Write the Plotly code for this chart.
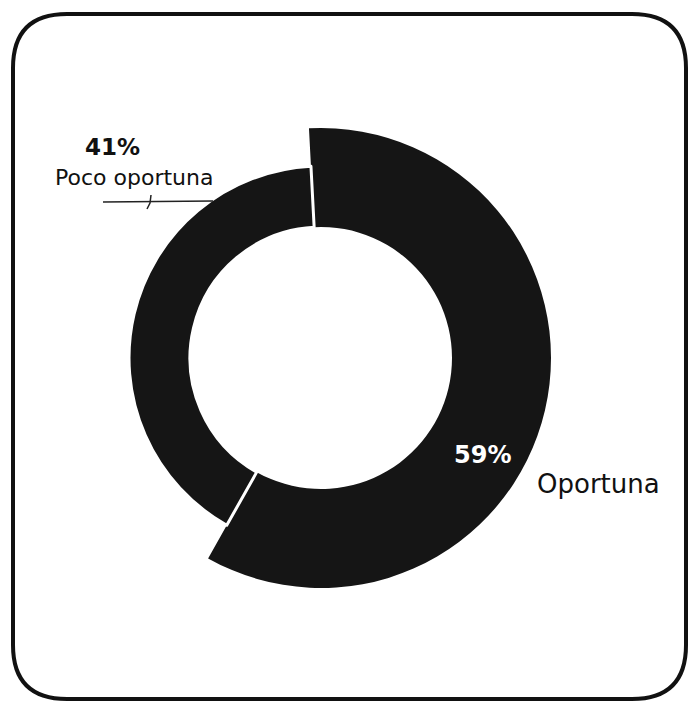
import plotly.graph_objects as go

W, H = 689, 702

labels = ["Oportuna", "Poco oportuna"]
values = [59, 41]
pct_text = ["59%", "41%"]

dark = "#151515"
clear = "rgba(0,0,0,0)"


def px(x):
    return x / W


def py(y):
    return (H - y) / H


# donut geometry (page pixels)
cx, cy = 321, 358
r_big, r_small, r_in = 230, 192, 131


def dom(r):
    return dict(x=[px(cx - r), px(cx + r)], y=[py(cy + r), py(cy - r)])


fig = go.Figure()

# slice "Oportuna" drawn larger
fig.add_trace(go.Pie(
    labels=labels, values=values, sort=False, direction="clockwise", rotation=-3,
    hole=r_in / r_big, domain=dom(r_big), textinfo="none", hoverinfo="label+percent",
    marker=dict(colors=[dark, clear], line=dict(color="white", width=[0, 0])),
    showlegend=False,
))

# slice "Poco oportuna"
fig.add_trace(go.Pie(
    labels=labels, values=values, sort=False, direction="clockwise", rotation=-3,
    hole=r_in / r_small, domain=dom(r_small), textinfo="none", hoverinfo="label+percent",
    marker=dict(colors=[clear, dark], line=dict(color="white", width=[0, 3])),
    showlegend=False,
))

sans = "DejaVu Sans, Verdana, sans-serif"

annos = [
    dict(x=px(112), y=py(147), text="<b>" + pct_text[1] + "</b>", font=dict(family=sans, size=23, color="#111")),
    dict(x=px(134), y=py(177), text=labels[1], font=dict(family=sans, size=22, color="#111")),
    dict(x=px(482), y=py(455), text="<b>" + pct_text[0] + "</b>", font=dict(family=sans, size=24, color="white")),
    dict(x=px(598), y=py(484), text=labels[0], font=dict(family=sans, size=26, color="#111")),
]
for a in annos:
    a.update(xref="paper", yref="paper", showarrow=False, xanchor="center", yanchor="middle")

# rounded frame
x0, y0, x1, y1, rc = 13, 14, 686, 699, 54
frame = (f"M{px(x0 + rc)},{py(y0)} L{px(x1 - rc)},{py(y0)} "
         f"Q{px(x1)},{py(y0)} {px(x1)},{py(y0 + rc)} L{px(x1)},{py(y1 - rc)} "
         f"Q{px(x1)},{py(y1)} {px(x1 - rc)},{py(y1)} L{px(x0 + rc)},{py(y1)} "
         f"Q{px(x0)},{py(y1)} {px(x0)},{py(y1 - rc)} L{px(x0)},{py(y0 + rc)} "
         f"Q{px(x0)},{py(y0)} {px(x0 + rc)},{py(y0)} Z")

leader = f"M{px(103)},{py(202)} L{px(213)},{py(201)}"
tick = f"M{px(151)},{py(195)} L{px(150)},{py(203)} L{px(147)},{py(209)}"

fig.update_layout(
    width=W, height=H,
    margin=dict(l=0, r=0, t=0, b=0),
    paper_bgcolor="white", plot_bgcolor="white",
    annotations=annos,
    shapes=[
        dict(type="path", xref="paper", yref="paper", path=frame,
             line=dict(color="#111", width=4)),
        dict(type="path", xref="paper", yref="paper", path=leader,
             line=dict(color="#222", width=1.5)),
        dict(type="path", xref="paper", yref="paper", path=tick,
             line=dict(color="#222", width=1.5)),
    ],
)

# drop the default body margin so the figure sits at the page corner
fig.write_html("out.html", config={"displayModeBar": False},
               post_script="document.body.style.margin='0';document.body.style.overflow='hidden';")
